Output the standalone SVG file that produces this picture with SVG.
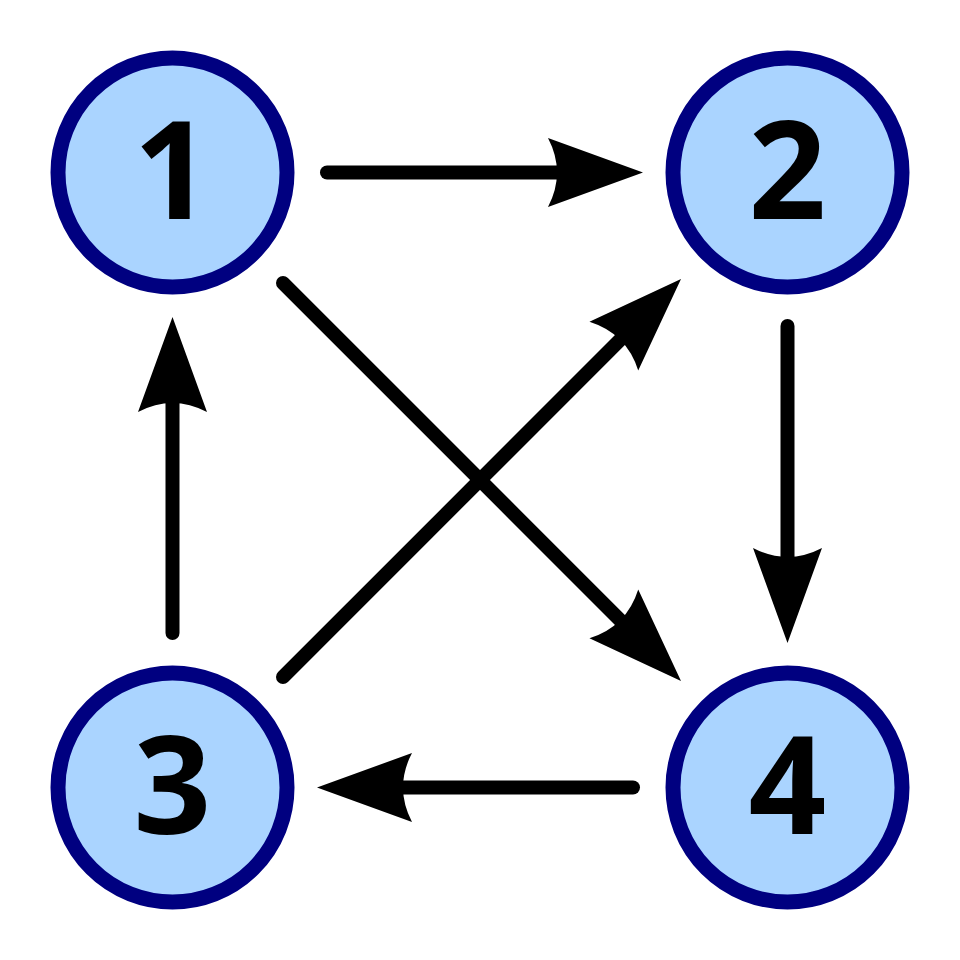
<svg xmlns="http://www.w3.org/2000/svg" width="960" height="960" viewBox="0 0 960 960">
<style>
.node circle{fill:#aad4ff;stroke:#000080;stroke-width:15}
.node text{font-family:"Open Sans","Noto Sans",sans-serif;font-weight:bold;font-size:136px;text-anchor:middle;fill:#000}
.edge{stroke:#000;stroke-width:14;stroke-linecap:round;fill:none;marker-end:url(#arr)}
</style>
<defs>
<marker id="arr" markerUnits="userSpaceOnUse" viewBox="-10 -36 98 72" refX="0" refY="0" markerWidth="98" markerHeight="72" orient="auto" overflow="visible">
<path d="M86,0 L-9,-34.5 Q9,0 -9,34.5 Z" fill="#000"/>
</marker>
</defs>
<rect width="960" height="960" fill="#fff"/>
<g id="connectors">
<line class="edge" x1="327" y1="172.5" x2="557" y2="172.5"/>
<line class="edge" x1="283" y1="283" x2="620.2" y2="620.2"/>
<line class="edge" x1="283" y1="677" x2="620.2" y2="339.8"/>
<line class="edge" x1="787.5" y1="326" x2="787.5" y2="557"/>
<line class="edge" x1="633" y1="787.5" x2="403" y2="787.5"/>
<line class="edge" x1="172.5" y1="633" x2="172.5" y2="403"/>
</g>
<g id="node1" class="node"><circle cx="172.5" cy="172.5" r="114.5"/><text x="172.5" y="219">1</text></g>
<g id="node2" class="node"><circle cx="787.5" cy="172.5" r="114.5"/><text x="787.5" y="219">2</text></g>
<g id="node3" class="node"><circle cx="172.5" cy="787.5" r="114.5"/><text x="172.5" y="834">3</text></g>
<g id="node4" class="node"><circle cx="787.5" cy="787.5" r="114.5"/><text x="787.5" y="834">4</text></g>
</svg>
